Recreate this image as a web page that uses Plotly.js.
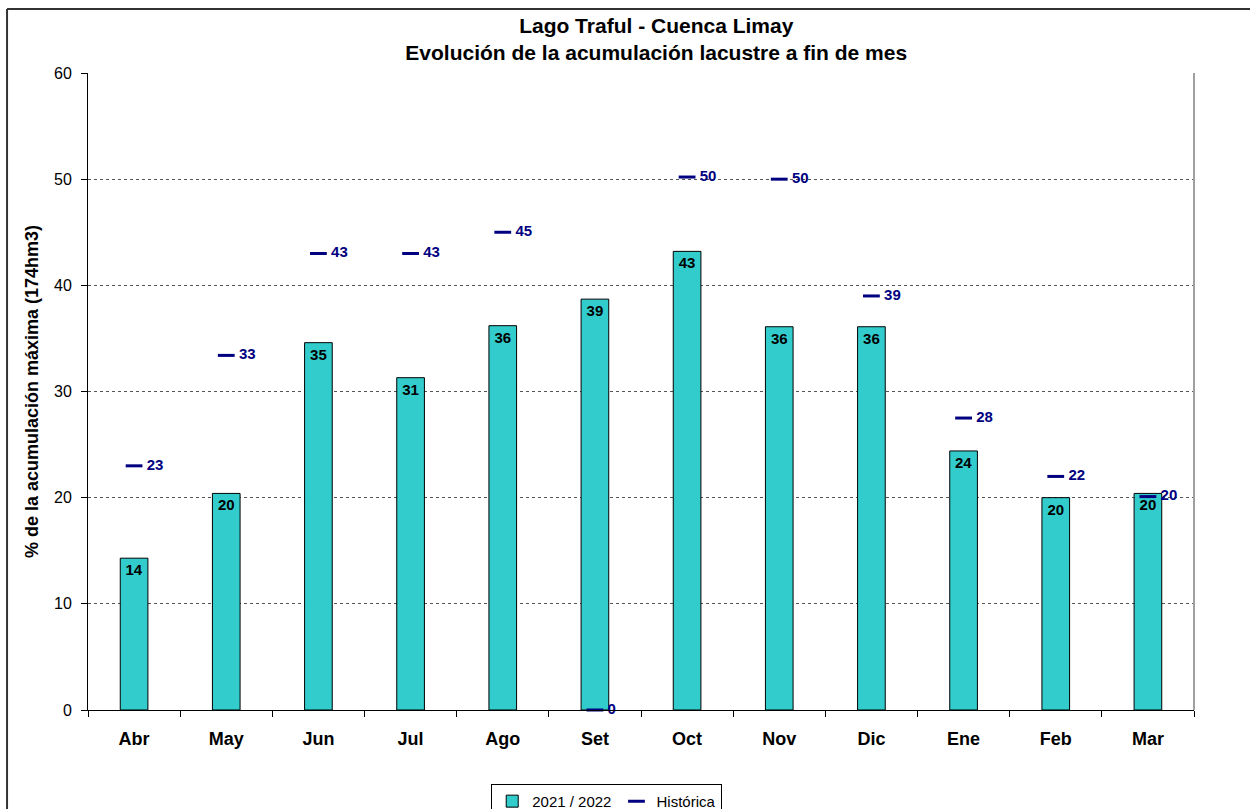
<!DOCTYPE html>
<html>
<head>
<meta charset="utf-8">
<script src="https://cdn.plot.ly/plotly-3.0.1.min.js"></script>
<style>html,body{margin:0;padding:0;background:#fff;}#chart{width:1250px;height:809px;}</style>
</head>
<body>
<div id="chart"></div>
<script>
const months = ["Abr","May","Jun","Jul","Ago","Set","Oct","Nov","Dic","Ene","Feb","Mar"];
const actual2122 = [14.3, 20.4, 34.6, 31.3, 36.2, 38.7, 43.2, 36.1, 36.1, 24.4, 20.0, 20.4];
const historica = [23.0, 33.4, 43.0, 43.0, 45.0, 0.0, 50.2, 50.0, 39.0, 27.5, 22.0, 20.1];
const yTicks = [0, 10, 20, 30, 40, 50, 60];

const FONT = "Liberation Sans, Arial, sans-serif";

const traces = [
  {
    type: "bar",
    name: "2021 / 2022",
    x: months,
    y: actual2122,
    width: 0.3,
    marker: {color: "#33CCCC", line: {color: "#000000", width: 1}},
    texttemplate: "%{y:.0f}",
    textposition: "inside",
    insidetextanchor: "end",
    textangle: 0,
    constraintext: "none",
    insidetextfont: {family: FONT, size: 15, color: "#000000", weight: "bold"},
    hoverinfo: "x+y"
  },
  {
    type: "scatter",
    mode: "markers+text",
    name: "Histórica",
    x: months,
    y: historica,
    marker: {symbol: "line-ew", size: 12, line: {color: "#000080", width: 3}, color: "#000080"},
    texttemplate: " %{y:.0f}",
    textposition: "middle right",
    textfont: {family: FONT, size: 15, color: "#000080", weight: "bold"},
    cliponaxis: false
  }
];

const layout = {
  width: 1250,
  height: 809,
  margin: {l: 88, r: 56, t: 73, b: 99, autoexpand: false},
  paper_bgcolor: "#ffffff",
  plot_bgcolor: "#ffffff",
  font: {family: FONT, size: 15, color: "#000000"},
  title: {
    text: "<b>Lago Traful - Cuenca Limay<br>Evolución de la acumulación lacustre a fin de mes</b>",
    x: 0.525, xref: "container", xanchor: "center",
    y: 0.959, yref: "container", yanchor: "middle",
    font: {family: FONT, size: 21, color: "#000000"}
  },
  showlegend: true,
  legend: {
    orientation: "h",
    x: 0.469, xanchor: "center",
    y: -0.116, yanchor: "top",
    bordercolor: "#000000", borderwidth: 1,
    font: {family: FONT, size: 15, color: "#000000"},
    tracegroupgap: 0
  },
  xaxis: {
    type: "category",
    tickvals: months,
    ticktext: months.map(m => "<b>" + m + "</b>"),
    tickfont: {family: FONT, size: 18, color: "#000000"},
    showline: true, linecolor: "#000000", linewidth: 1,
    ticks: "outside", tickson: "boundaries", ticklen: 6, tickcolor: "#000000",
    ticklabelstandoff: 12,
    showgrid: false, zeroline: false,
    automargin: false,
    range: [-0.5, 11.5]
  },
  yaxis: {
    range: [0, 60],
    tickvals: yTicks,
    ticktext: yTicks.map(String),
    tickfont: {family: FONT, size: 16, color: "#000000"},
    showline: true, linecolor: "#000000", linewidth: 1,
    ticks: "outside", ticklen: 6, tickcolor: "#000000",
    ticklabelstandoff: 6,
    showgrid: true, gridcolor: "#555555", gridwidth: 1, griddash: "3px,3px",
    zeroline: false,
    automargin: false,
    title: {text: "<b>% de la acumulación máxima (174hm3)</b>", font: {family: FONT, size: 18, color: "#000000"}, standoff: 10}
  },
  shapes: [
    {type: "line", xref: "paper", yref: "paper", x0: 1, x1: 1, y0: 0, y1: 1, line: {color: "#A0A0A0", width: 2}},
    {type: "line", xref: "paper", yref: "paper", x0: -0.0732, x1: 1.2, y0: 1.1005, y1: 1.1005, line: {color: "#333333", width: 2}},
    {type: "line", xref: "paper", yref: "paper", x0: -0.0732, x1: -0.0732, y0: 1.1005, y1: -0.2, line: {color: "#333333", width: 2}}
  ]
};

Plotly.newPlot("chart", traces, layout, {displayModeBar: false, staticPlot: true});
</script>
</body>
</html>
